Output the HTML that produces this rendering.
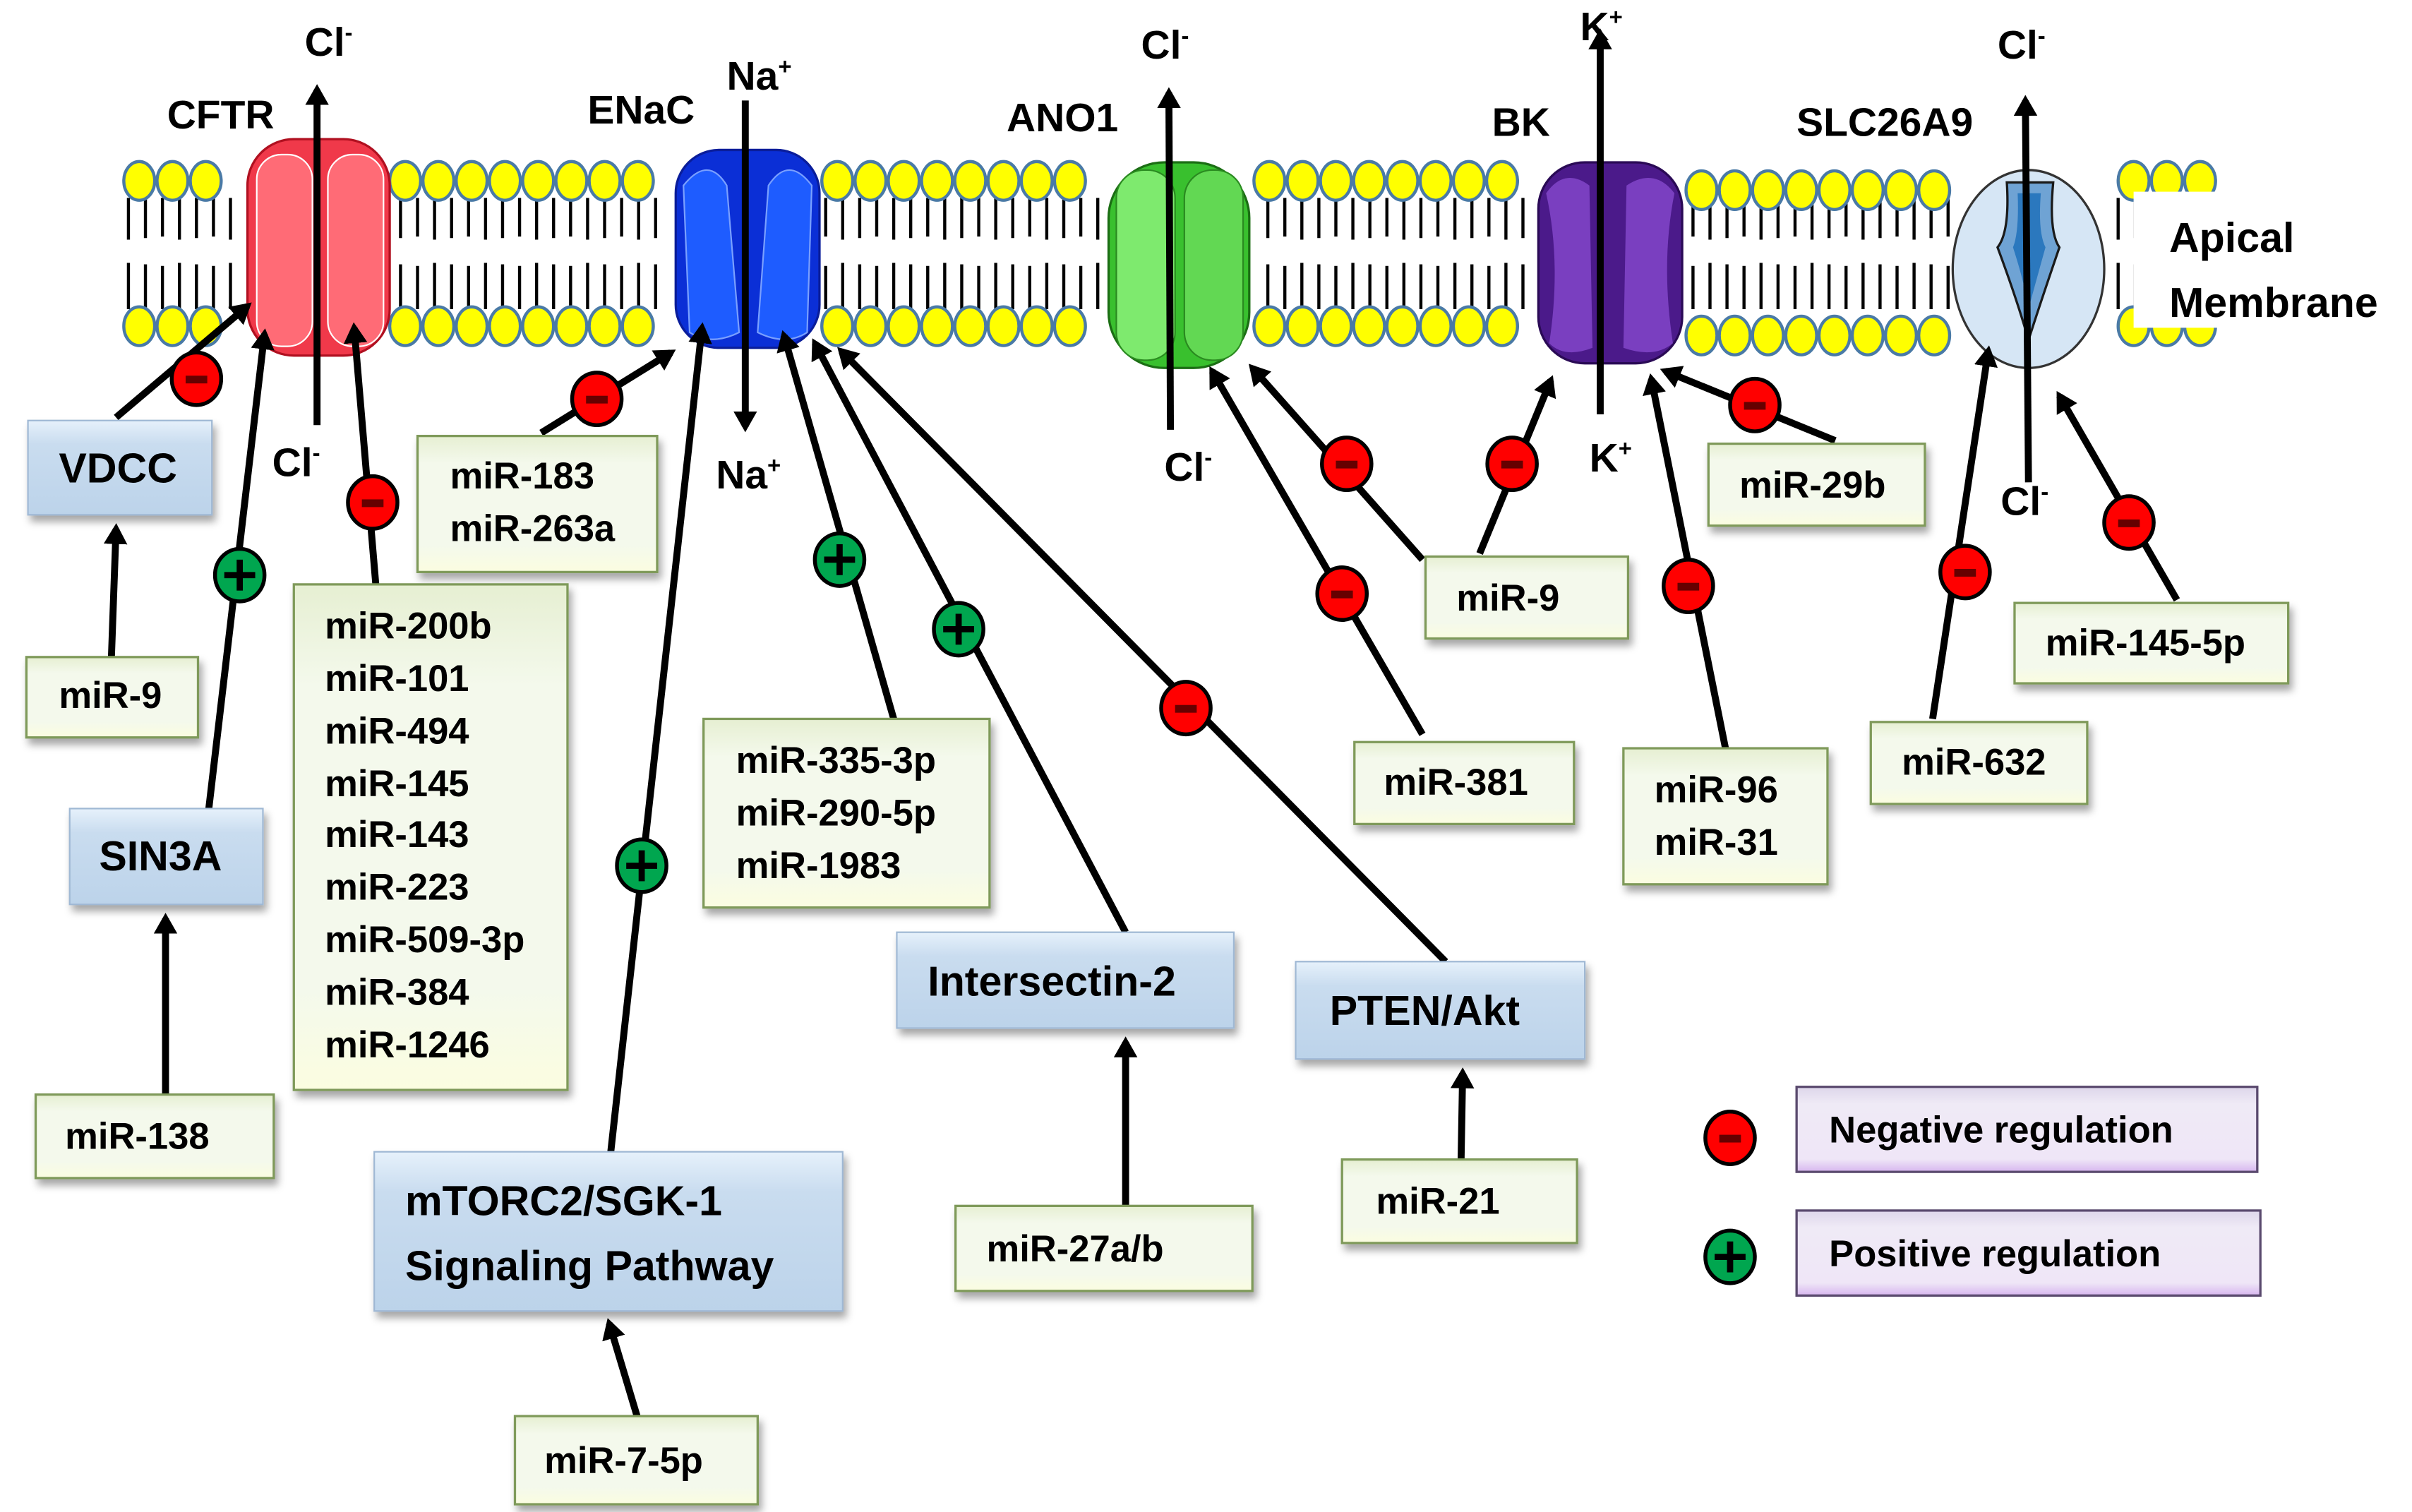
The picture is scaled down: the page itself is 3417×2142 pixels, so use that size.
<!DOCTYPE html>
<html><head><meta charset="utf-8"><style>
html,body{margin:0;padding:0;background:#fff;}
svg{display:block;}
text{font-family:"Liberation Sans Narrow","Liberation Sans",sans-serif;font-weight:bold;fill:#000;}
</style></head><body>
<svg id="s" width="3417" height="2142" viewBox="0 0 1560 978" xmlns="http://www.w3.org/2000/svg">
<defs>
<marker id="ah" markerWidth="4" markerHeight="4" refX="2.2" refY="2" orient="auto" markerUnits="strokeWidth"><path d="M0,0.3 L3,2 L0,3.7 z" fill="#000"/></marker>
<linearGradient id="gg" x1="0" y1="0" x2="0" y2="1"><stop offset="0" stop-color="#e6efd2"/><stop offset="0.2" stop-color="#f4f9ec"/><stop offset="0.8" stop-color="#f4f9ec"/><stop offset="1" stop-color="#fbfde0"/></linearGradient>
<linearGradient id="bg" x1="0" y1="0" x2="0" y2="1"><stop offset="0" stop-color="#e6f1fb"/><stop offset="0.25" stop-color="#c9dcef"/><stop offset="1" stop-color="#bcd3ea"/></linearGradient>
<linearGradient id="pg" x1="0" y1="0" x2="0" y2="1"><stop offset="0" stop-color="#ddd6ea"/><stop offset="0.2" stop-color="#efeaf6"/><stop offset="0.85" stop-color="#efe6f7"/><stop offset="1" stop-color="#d7b6ef"/></linearGradient>
<filter id="sh" x="-10%" y="-10%" width="130%" height="140%"><feDropShadow dx="2" dy="4" stdDeviation="2.5" flood-color="#000" flood-opacity="0.35"/></filter>
</defs>
<g id="mem"></g>

<rect x="1380" y="124" width="180" height="88" fill="#fff"/>
<text x="1403" y="163" font-size="27">Apical</text>
<text x="1403" y="205" font-size="27">Membrane</text>

<g>
<rect x="160" y="90" width="92" height="140" rx="30" fill="#f0394a" stroke="#b01020" stroke-width="1.5"/>
<rect x="166" y="100" width="36" height="124" rx="16" fill="#ff6b76" stroke="#fff" stroke-width="1"/>
<rect x="212" y="100" width="36" height="124" rx="16" fill="#ff6b76" stroke="#fff" stroke-width="1"/>
</g>
<g>
<rect x="437" y="97" width="93" height="128" rx="28" fill="#0b2fd6" stroke="#0a1d9a" stroke-width="1.5"/>
<path d="M442,120 Q458,100 470,120 L478,215 Q460,224 446,215 Z" fill="#1e5cff" stroke="#7aa0ff" stroke-width="1"/>
<path d="M525,120 Q510,100 497,120 L490,215 Q508,224 522,215 Z" fill="#1e5cff" stroke="#7aa0ff" stroke-width="1"/>
</g>
<g>
<rect x="717" y="105" width="91" height="133" rx="36" fill="#39c02e" stroke="#1b6e14" stroke-width="1.5"/>
<rect x="722" y="110" width="38" height="123" rx="18" fill="#7eea6e" stroke="#2a8a20" stroke-width="1"/>
<rect x="766" y="110" width="38" height="123" rx="18" fill="#62d853" stroke="#2a8a20" stroke-width="1"/>
</g>
<g>
<rect x="995" y="105" width="93" height="130" rx="30" fill="#4b1a8a" stroke="#2a0a55" stroke-width="1.5"/>
<path d="M1000,125 Q1012,108 1028,120 L1030,225 Q1012,232 1002,222 Q1010,170 1000,125Z" fill="#7a3fc0"/>
<path d="M1083,125 Q1070,108 1052,120 L1050,225 Q1070,232 1082,222 Q1074,170 1083,125Z" fill="#7a3fc0"/>
</g>
<g>
<ellipse cx="1312" cy="174" rx="49" ry="64" fill="#d6e6f5" stroke="#333" stroke-width="1.5"/>
<path d="M1298,118 Q1300,150 1292,160 Q1305,195 1312,220 Q1320,195 1332,160 Q1325,150 1328,118 Z" fill="#6fa3d4" stroke="#1a1a1a" stroke-width="1.5"/>
<path d="M1305,125 Q1306,150 1302,160 Q1310,185 1312,200 Q1316,185 1323,160 Q1318,150 1320,125Z" fill="#2b78be"/>
</g>

<g stroke="#000" stroke-width="4.5" fill="none">
<line x1="205" y1="275" x2="205" y2="58" marker-end="url(#ah)"/>
<line x1="482" y1="65" x2="482" y2="276" marker-end="url(#ah)"/>
<line x1="757" y1="278" x2="756" y2="60" marker-end="url(#ah)"/>
<line x1="1035" y1="268" x2="1035" y2="22" marker-end="url(#ah)"/>
<line x1="1312" y1="312" x2="1310" y2="65" marker-end="url(#ah)"/>
</g>
<g font-size="26">
<text x="197" y="36">Cl<tspan font-size="15" dy="-10">-</tspan></text>
<text x="176" y="308">Cl<tspan font-size="15" dy="-10">-</tspan></text>
<text x="470" y="58">Na<tspan font-size="15" dy="-10">+</tspan></text>
<text x="463" y="316">Na<tspan font-size="15" dy="-10">+</tspan></text>
<text x="738" y="38">Cl<tspan font-size="15" dy="-10">-</tspan></text>
<text x="753" y="311">Cl<tspan font-size="15" dy="-10">-</tspan></text>
<text x="1022" y="26">K<tspan font-size="15" dy="-10">+</tspan></text>
<text x="1028" y="305">K<tspan font-size="15" dy="-10">+</tspan></text>
<text x="1292" y="38">Cl<tspan font-size="15" dy="-10">-</tspan></text>
<text x="1294" y="333">Cl<tspan font-size="15" dy="-10">-</tspan></text>
<text x="108" y="83">CFTR</text>
<text x="380" y="80">ENaC</text>
<text x="651" y="85">ANO1</text>
<text x="965" y="88">BK</text>
<text x="1162" y="88">SLC26A9</text>
</g>

<g stroke="#000" stroke-width="4.5" fill="none" marker-end="url(#ah)">
<line x1="75" y1="270" x2="160" y2="198"/>
<line x1="72" y1="425" x2="75" y2="342"/>
<line x1="135" y1="523" x2="171" y2="216"/>
<line x1="107" y1="708" x2="107" y2="594"/>
<line x1="243" y1="378" x2="229" y2="212"/>
<line x1="350" y1="280" x2="434" y2="228"/>
<line x1="395" y1="745" x2="454" y2="212"/>
<line x1="412" y1="916" x2="394" y2="856"/>
<line x1="578" y1="465" x2="507" y2="217"/>
<line x1="728" y1="603" x2="527" y2="222"/>
<line x1="935" y1="622" x2="544" y2="227"/>
<line x1="728" y1="780" x2="728" y2="674"/>
<line x1="945" y1="750" x2="946" y2="694"/>
<line x1="920" y1="475" x2="784" y2="240"/>
<line x1="920" y1="362" x2="810" y2="238"/>
<line x1="957" y1="358" x2="1003" y2="246"/>
<line x1="1116" y1="484" x2="1068" y2="245"/>
<line x1="1187" y1="285" x2="1077" y2="240"/>
<line x1="1250" y1="465" x2="1286" y2="227"/>
<line x1="1408" y1="388" x2="1332" y2="256"/>
</g>

<g stroke="#7f9a5a" stroke-width="1.5" fill="url(#gg)" filter="url(#sh)">
<rect x="17" y="425" width="111" height="52"/>
<rect x="23" y="708" width="154" height="54"/>
<rect x="190" y="378" width="177" height="327"/>
<rect x="270" y="282" width="155" height="88"/>
<rect x="455" y="465" width="185" height="122"/>
<rect x="333" y="916" width="157" height="57"/>
<rect x="618" y="780" width="192" height="55"/>
<rect x="868" y="750" width="152" height="54"/>
<rect x="876" y="480" width="142" height="53"/>
<rect x="922" y="360" width="131" height="53"/>
<rect x="1050" y="484" width="132" height="88"/>
<rect x="1105" y="287" width="140" height="53"/>
<rect x="1210" y="467" width="140" height="53"/>
<rect x="1303" y="390" width="177" height="52"/>
</g>
<g stroke="#9fb8d4" stroke-width="1" fill="url(#bg)" filter="url(#sh)">
<rect x="18" y="272" width="119" height="61"/>
<rect x="45" y="523" width="125" height="62"/>
<rect x="242" y="745" width="303" height="103"/>
<rect x="580" y="603" width="218" height="62"/>
<rect x="838" y="622" width="187" height="63"/>
</g>
<g stroke="#5a4a6e" stroke-width="1.5" fill="url(#pg)">
<rect x="1162" y="703" width="298" height="55"/>
<rect x="1162" y="783" width="300" height="55"/>
</g>

<g font-size="24">
<text x="38" y="458">miR-9</text>
<text x="42" y="743">miR-138</text>
<text x="210" y="413">miR-200b</text>
<text x="210" y="447">miR-101</text>
<text x="210" y="481">miR-494</text>
<text x="210" y="515">miR-145</text>
<text x="210" y="548">miR-143</text>
<text x="210" y="582">miR-223</text>
<text x="210" y="616">miR-509-3p</text>
<text x="210" y="650">miR-384</text>
<text x="210" y="684">miR-1246</text>
<text x="291" y="316">miR-183</text>
<text x="291" y="350">miR-263a</text>
<text x="476" y="500">miR-335-3p</text>
<text x="476" y="534">miR-290-5p</text>
<text x="476" y="568">miR-1983</text>
<text x="352" y="953">miR-7-5p</text>
<text x="638" y="816">miR-27a/b</text>
<text x="890" y="785">miR-21</text>
<text x="895" y="514">miR-381</text>
<text x="942" y="395">miR-9</text>
<text x="1070" y="519">miR-96</text>
<text x="1070" y="553">miR-31</text>
<text x="1125" y="322">miR-29b</text>
<text x="1230" y="501">miR-632</text>
<text x="1323" y="424">miR-145-5p</text>
<text x="1183" y="739">Negative regulation</text>
<text x="1183" y="819">Positive regulation</text>
</g>
<g font-size="27">
<text x="38" y="312">VDCC</text>
<text x="64" y="563">SIN3A</text>
<text x="262" y="786">mTORC2/SGK-1</text>
<text x="262" y="828">Signaling Pathway</text>
<text x="600" y="644">Intersectin-2</text>
<text x="860" y="663">PTEN/Akt</text>
</g>

<g id="signs"></g>
</svg>
<script>
var NS="http://www.w3.org/2000/svg";
function el(p,t,a){var e=document.createElementNS(NS,t);for(var k in a)e.setAttribute(k,a[k]);p.appendChild(e);return e;}
var mem=document.getElementById("mem");
var gaps=[[156,256],[432,534],[713,812],[991,1091],[1260,1362]];
function inGap(x,m){for(var i=0;i<gaps.length;i++)if(x>gaps[i][0]-m&&x<gaps[i][1]+m)return true;return false;}
for(var x=83;x<=1447;x+=11){if(inGap(x,0))continue;
 el(mem,"line",{x1:x,y1:128,x2:x,y2:153+(x%3),stroke:"#000","stroke-width":2});
 el(mem,"line",{x1:x,y1:172-(x%3),x2:x,y2:200,stroke:"#000","stroke-width":2});}
for(var x=90;x<=1442;x+=21.5){if(inGap(x,4))continue;
 var dy=(x>1090&&x<1260)?6:0;
 el(mem,"ellipse",{cx:x,cy:117+dy,rx:10,ry:12.5,fill:"#ffff00",stroke:"#4a7aa6","stroke-width":2});
 el(mem,"ellipse",{cx:x,cy:211+dy,rx:10,ry:12.5,fill:"#ffff00",stroke:"#4a7aa6","stroke-width":2});}
var sg=document.getElementById("signs");
function sign(x,y,pos){
 el(sg,"ellipse",{cx:x,cy:y,rx:16,ry:17,fill:pos?"#00a64f":"#ff0000",stroke:"#000","stroke-width":2.5});
 if(pos){el(sg,"rect",{x:x-10,y:y-2,width:20,height:4,fill:"#000"});el(sg,"rect",{x:x-2,y:y-10,width:4,height:20,fill:"#000"});}
 else el(sg,"rect",{x:x-7,y:y-2,width:14,height:5,fill:"#600"});}
[[127,245,0],[155,372,1],[241,325,0],[386,258,0],[415,560,1],[543,362,1],[620,407,1],[767,458,0],[868,384,0],[871,300,0],[978,300,0],[1092,379,0],[1135,262,0],[1271,370,0],[1377,338,0],[1119,736,0],[1119,813,1]].forEach(function(a){sign(a[0],a[1],a[2]);});
</script>
</body></html>
